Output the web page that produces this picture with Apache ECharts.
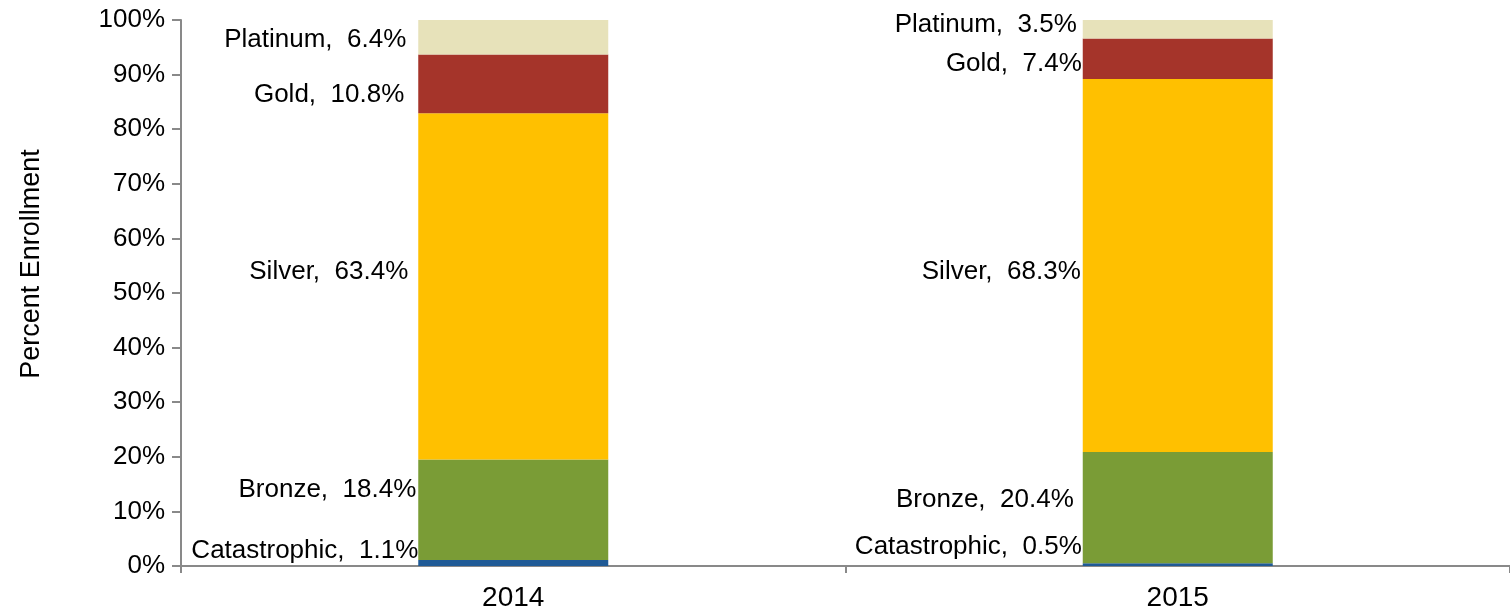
<!DOCTYPE html>
<html>
<head>
<meta charset="utf-8">
<script src="https://cdn.jsdelivr.net/npm/echarts@6/dist/echarts.min.js"></script>
<style>
  html, body { margin: 0; padding: 0; background: #fff; }
  #chart { width: 1510px; height: 614px; }
</style>
</head>
<body>
<div id="chart"></div>
<script>
const years = ['2014', '2015'];
const tiers = ['Catastrophic', 'Bronze', 'Silver', 'Gold', 'Platinum'];
const catastrophic = [1.1, 0.5];
const bronze = [18.4, 20.4];
const silver = [63.4, 68.3];
const gold = [10.8, 7.4];
const platinum = [6.4, 3.5];
const yTicks = [0, 10, 20, 30, 40, 50, 60, 70, 80, 90, 100];

const colors = ['#1F5A96', '#7A9C36', '#FFC000', '#A5342A', '#E7E2BA'];
// hand placed label nudges, as in the original
const nudges = [
    [[0, -12], [-1, -18]],
    [[-2, -20], [-9, -8]],
    [[-10, -15], [-2, 6]],
    [[-14, 11], [-1, 5]],
    [[-12, 3], [-6, -4]]
];

const font = 'Liberation Sans, Arial, sans-serif';
const chart = echarts.init(document.getElementById('chart'));

const series = [catastrophic, bronze, silver, gold, platinum].map((vals, i) => ({
    name: tiers[i],
    type: 'bar',
    stack: 'total',
    barWidth: 190,
    itemStyle: { color: colors[i] },
    label: {
        show: true,
        position: 'left',
        distance: 0,
        formatter: p => `${p.seriesName},  ${p.value}%`,
        fontFamily: font,
        fontSize: 26,
        color: '#000'
    },
    data: vals.map((v, j) => ({ value: v, label: { offset: nudges[i][j] } }))
}));

chart.setOption({
    animation: false,
    grid: { left: 181, right: 0, top: 20, bottom: 48 },
    xAxis: {
        type: 'category',
        data: years,
        axisLine: { lineStyle: { color: '#898989', width: 2 } },
        axisTick: { show: true, length: 7, lineStyle: { color: '#898989', width: 2 } },
        axisLabel: { fontFamily: font, fontSize: 28, color: '#000', margin: 18 }
    },
    yAxis: {
        type: 'value',
        min: 0,
        max: 100,
        interval: 10,
        name: 'Percent Enrollment',
        nameLocation: 'middle',
        nameGap: 136,
        nameTextStyle: { fontFamily: font, fontSize: 27, color: '#000', padding: [0, 0, 0, 58] },
        axisLine: { show: true, lineStyle: { color: '#898989', width: 2 } },
        axisTick: { show: true, length: 9, lineStyle: { color: '#898989', width: 2 } },
        splitLine: { show: false },
        axisLabel: {
            fontFamily: font, fontSize: 26, color: '#000', margin: 16,
            formatter: v => yTicks.includes(v) ? v + '%' : ''
        }
    },
    series: series
});
</script>
</body>
</html>
